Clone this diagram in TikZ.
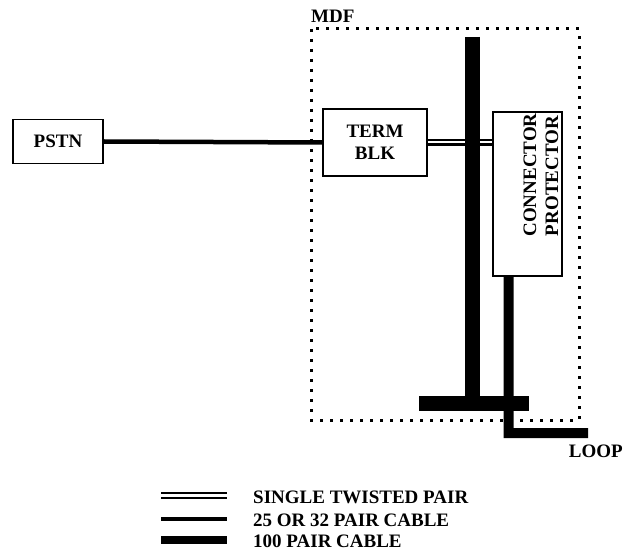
\documentclass[tikz,border=0pt]{standalone}
\usepackage{fontspec}
\setmainfont{Liberation Serif}
\begin{document}
\begin{tikzpicture}[x=1bp,y=-1bp,
  lbl/.style={font=\fontsize{19bp}{22bp}\selectfont\bfseries, inner sep=0pt},
  boxnode/.style={draw, line width=1.8bp, inner sep=0pt, align=center, font=\fontsize{19bp}{22bp}\selectfont\bfseries},
  twisted/.style={draw, line width=2bp, double=white, double distance=2.5bp, line cap=butt},
  cablemid/.style={draw, line width=4.5bp, line cap=butt},
  cablebig/.style={draw, line width=15bp, line cap=butt, line join=miter},
  cableloop/.style={draw, line width=10bp, line cap=butt, line join=miter},
  mdfframe/.style={draw, line width=3bp, dash pattern=on 3bp off 7bp}
]
\useasboundingbox (0,0) rectangle (624,552);

% MDF frame
\draw[mdfframe] (311,29) rectangle (579,420);
\node[lbl, anchor=base west] (mdf) at (311,23) {MDF};

% boxes
\node[boxnode, minimum width=90bp, minimum height=44bp] (pstn) at (58,141.5) {PSTN};
\node[boxnode, minimum width=104bp, minimum height=67bp] (term) at (375,142.5) {TERM\\BLK};
\node[boxnode, minimum width=69bp, minimum height=164bp, fill=white] (cp) at (527.5,194) {};
\node[lbl, rotate=90] (conn) at (530,175) {CONNECTOR};
\node[lbl, rotate=90] (prot) at (552,176) {PROTECTOR};

% cables
\draw[cablemid] (pstn.east) -- (term.west);
\draw[twisted, line width=2.2bp, double distance=2bp] (term.east) -- (cp.west |- term.east);

\coordinate (vtop) at (472.5,37);
\coordinate (vbot) at (472.5,400);
\draw[cablebig] (vtop) -- (vbot);
\coordinate (hl) at (419,403.5);
\coordinate (hr) at (529,403.5);
\draw[cablebig] (hl) -- (hr);

\coordinate (lstart) at ([xshift=-19bp]cp.south);
\coordinate (lcorner) at (508.5,433);
\coordinate (lend) at (588,433);
\draw[cableloop] (lstart) -- (lcorner) -- (lend);
\node[lbl, anchor=base east] (loop) at (623,457) {LOOP};

% legend
\coordinate (l1a) at (161,495.5);
\coordinate (l1b) at (227,495.5);
\draw[twisted] (l1a) -- (l1b);
\node[lbl, anchor=base west] (t1) at (253,503) {SINGLE TWISTED PAIR};
\coordinate (l2a) at (161,519);
\coordinate (l2b) at (227,519);
\draw[cablemid] (l2a) -- (l2b);
\node[lbl, anchor=base west] (t2) at (253,526) {25 OR 32 PAIR CABLE};
\coordinate (l3a) at (161,539.5);
\coordinate (l3b) at (227,539.5);
\draw[cablemid, line width=8bp] (l3a) -- (l3b);
\node[lbl, anchor=base west] (t3) at (253,547) {100 PAIR CABLE};
\end{tikzpicture}
\end{document}
